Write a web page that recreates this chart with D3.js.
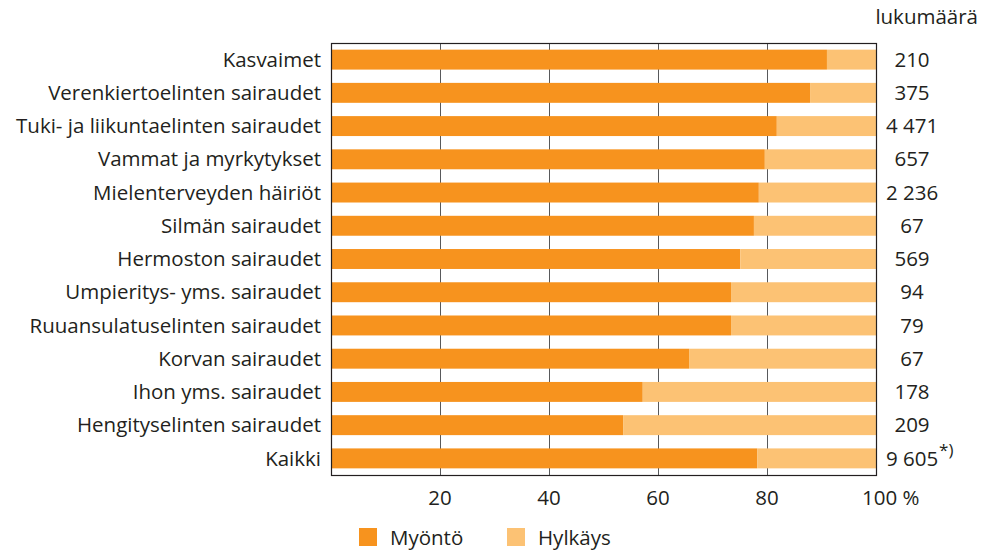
<!DOCTYPE html>
<html>
<head>
<meta charset="utf-8">
<script src="https://cdn.jsdelivr.net/npm/d3@7"></script>
<style>
  body { margin: 0; background: #fff; }
  svg text { font-family: "Open Sans", "Noto Sans", sans-serif; fill: #231f20; }
</style>
</head>
<body>
<div id="chart"></div>
<script>
  // categories, top to bottom
  const categories = [
    'Kasvaimet',
    'Verenkiertoelinten sairaudet',
    'Tuki- ja liikuntaelinten sairaudet',
    'Vammat ja myrkytykset',
    'Mielenterveyden häiriöt',
    'Silmän sairaudet',
    'Hermoston sairaudet',
    'Umpieritys- yms. sairaudet',
    'Ruuansulatuselinten sairaudet',
    'Korvan sairaudet',
    'Ihon yms. sairaudet',
    'Hengityselinten sairaudet',
    'Kaikki'
  ];
  // share of approvals, %
  const myonto = [91.0, 87.9, 81.8, 79.6, 78.5, 77.6, 75.1, 73.4, 73.4, 65.7, 57.2, 53.6, 78.2];
  // counts shown at the right
  const lukumaara = ['210', '375', '4 471', '657', '2 236', '67', '569', '94', '79', '67', '178', '209', '9 605'];
  const xTicks = [20, 40, 60, 80, 100];
  const seriesNames = ['Myöntö', 'Hylkäys'];
  const colors = ['#f7931e', '#fcc274'];

  const width = 983, height = 550;
  const margin = { top: 43, right: 107, bottom: 75, left: 331 };
  const fs = 20.5;

  const svg = d3.select('#chart').append('svg')
    .attr('width', width)
    .attr('height', height);

  const x = d3.scaleLinear()
    .domain([0, 100])
    .range([margin.left, width - margin.right]);
  const y = d3.scaleBand()
    .domain(categories)
    .range([margin.top, height - margin.bottom])
    .paddingInner(0.4)
    .paddingOuter(0.2);

  const rows = categories.map((c, i) => ({ cat: c, yes: myonto[i], n: lukumaara[i] }));

  // gridlines
  svg.append('g')
    .selectAll('line')
    .data(xTicks.slice(0, -1))
    .enter()
    .append('line')
    .attr('x1', d => x(d) + 0.5)
    .attr('x2', d => x(d) + 0.5)
    .attr('y1', margin.top)
    .attr('y2', height - margin.bottom)
    .attr('stroke', '#58595b')
    .attr('stroke-width', 1);

  // bars
  const bars = svg.append('g');
  bars.selectAll('rect.yes')
    .data(rows)
    .enter()
    .append('rect')
    .attr('class', 'yes')
    .attr('x', x(0) + 1)
    .attr('y', d => y(d.cat))
    .attr('width', d => x(d.yes) - x(0) - 1)
    .attr('height', y.bandwidth())
    .attr('fill', colors[0]);
  bars.selectAll('rect.no')
    .data(rows)
    .enter()
    .append('rect')
    .attr('class', 'no')
    .attr('x', d => x(d.yes))
    .attr('y', d => y(d.cat))
    .attr('width', d => x(100) - x(d.yes))
    .attr('height', y.bandwidth())
    .attr('fill', colors[1]);

  // frame
  svg.append('rect')
    .attr('x', x(0) + 0.5)
    .attr('y', margin.top + 0.5)
    .attr('width', x(100) - x(0))
    .attr('height', height - margin.bottom - margin.top)
    .attr('fill', 'none')
    .attr('stroke', '#231f20')
    .attr('stroke-width', 1.2);

  // category labels
  svg.append('g')
    .selectAll('text')
    .data(rows)
    .enter()
    .append('text')
    .attr('x', x(0) - 10)
    .attr('y', d => y(d.cat) + y.bandwidth() / 2)
    .attr('dy', '0.35em')
    .attr('text-anchor', 'end')
    .attr('font-size', fs)
    .text(d => d.cat);

  // counts
  const counts = svg.append('g')
    .selectAll('text')
    .data(rows)
    .enter()
    .append('text')
    .attr('x', x(100) + 36)
    .attr('y', d => y(d.cat) + y.bandwidth() / 2)
    .attr('dy', '0.35em')
    .attr('text-anchor', 'middle')
    .attr('font-size', fs)
    .text(d => d.n);

  // footnote mark on the last count
  const lastNode = counts.nodes()[counts.size() - 1];
  const bb = lastNode.getBBox();
  svg.append('text')
    .attr('x', bb.x + bb.width + 1)
    .attr('y', y(categories[categories.length - 1]) + y.bandwidth() / 2 - 2)
    .attr('font-size', 17)
    .text('*)');

  svg.append('text')
    .attr('x', width - 5)
    .attr('y', 24)
    .attr('text-anchor', 'end')
    .attr('font-size', fs)
    .text('lukumäärä');

  // x tick labels
  svg.append('g')
    .selectAll('text')
    .data(xTicks)
    .enter()
    .append('text')
    .attr('x', d => x(d))
    .attr('y', 505)
    .attr('text-anchor', 'middle')
    .attr('font-size', fs)
    .text(d => d === 100 ? '' : d);
  svg.append('text')
    .attr('x', x(100) - 14)
    .attr('y', 505)
    .attr('font-size', fs)
    .text('100 %');

  // legend
  const legend = svg.append('g')
    .selectAll('g')
    .data(seriesNames)
    .enter()
    .append('g')
    .attr('transform', (d, i) => `translate(${359 + i * 148}, 528)`);
  legend.append('rect')
    .attr('width', 18)
    .attr('height', 18)
    .attr('fill', (d, i) => colors[i]);
  legend.append('text')
    .attr('x', 31)
    .attr('y', 17)
    .attr('font-size', fs)
    .text(d => d);
</script>
</body>
</html>
